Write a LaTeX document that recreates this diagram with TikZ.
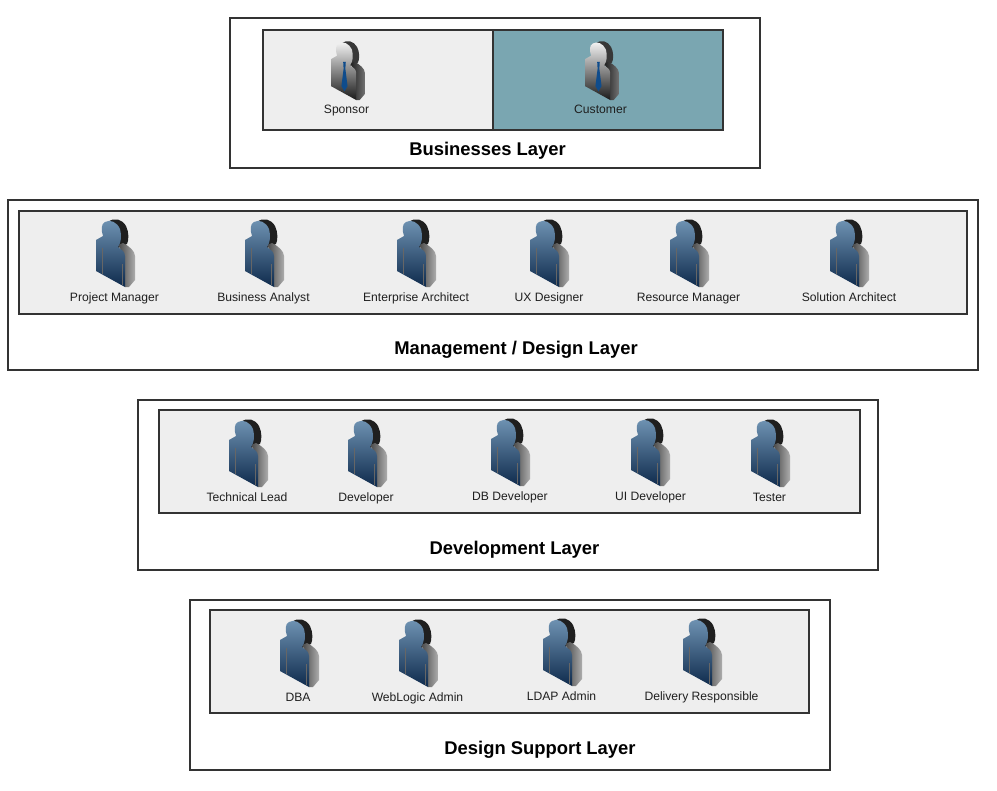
\documentclass[tikz,border=0pt]{standalone}
\usepackage{fontspec}
\setmainfont{Liberation Sans}
\definecolor{panelgray}{HTML}{EEEEEE}
\definecolor{panelteal}{HTML}{7AA6B1}
\definecolor{edge}{HTML}{333333}
\definecolor{frontTop}{HTML}{7094B4}
\definecolor{frontBot}{HTML}{0E2A4C}
\definecolor{tieblue}{HTML}{0F4C8C}
\tikzset{
  layerbox/.style={draw=edge,line width=1.2pt,fill=white,anchor=north west,inner sep=0pt,outer sep=0pt},
  panelbox/.style={layerbox,fill=panelgray},
  caption/.style={font=\fontsize{9.1}{11}\selectfont,text=black!88,inner sep=0pt,anchor=base},
  layertitle/.style={font=\fontsize{13.8}{16}\selectfont\bfseries,inner sep=0pt,anchor=base},
  foldline/.style={draw=black!60,line width=0.35pt}
}
\newcommand{\backhead}{(12,4) .. controls (18,-1) and (26,1) .. (30,8) .. controls (33,14) and (33,22) .. (31,26) -- (22,30) -- cycle}
\newcommand{\sidebody}{(22,27) -- (27,25) .. controls (33,28) and (39,33) .. (39,38) -- (39,62) -- (33,69) -- (29,69) -- (29,38) -- cycle}
\newcommand{\frontpath}{(0,22) -- (7,18) .. controls (5,12) and (5,6) .. (9,4)
     .. controls (14,1) and (21,4) .. (24,11) .. controls (26,18) and (25,25) .. (22,29)
     -- (27,33) .. controls (28,34) and (29,36) .. (29,38) -- (29,69) -- (0,53) -- cycle}
\newcommand{\staffperson}[2]{%
  \begin{scope}[shift={(#1,#2)}]
    \fill[black!88] \backhead;
    \shade[left color=black!72,right color=black!32] \sidebody;
    \shade[top color=frontTop,bottom color=frontBot] \frontpath;
    \draw[foldline] (6,30) -- (6,56);
    \draw[foldline] (26,46) -- (26,67);
  \end{scope}}
\newcommand{\suitperson}[2]{%
  \begin{scope}[shift={(#1,#2)},x=0.6525pt,y=-0.6525pt]
    \fill[black!78] \backhead;
    \shade[left color=black!88,right color=black!55] \sidebody;
    \shade[top color=black!3,middle color=black!50,bottom color=black!90] \frontpath;
    \fill[tieblue] (14,25) -- (17,25) -- (16.5,33) -- (19,53) -- (15.5,59) -- (12,53) -- (14.5,33) -- cycle;
  \end{scope}}
\begin{document}
\begin{tikzpicture}[x=0.75pt,y=-0.75pt]
\useasboundingbox (0,0) rectangle (997,790);
\fill[white] (0,0) rectangle (997,790);
% outer layers
\node[layerbox,minimum width=397.5pt,minimum height=112.5pt] (bizlayer) at (230,18) {};
\node[layerbox,minimum width=727.5pt,minimum height=127.5pt] (mgmtlayer) at (8,200) {};
\node[layerbox,minimum width=555pt,minimum height=127.5pt] (devlayer) at (138,400) {};
\node[layerbox,minimum width=480pt,minimum height=127.5pt] (suplayer) at (190,600) {};
% inner panels
\node[panelbox,minimum width=172.5pt,minimum height=75pt] (sponsorpanel) at (263,30) {};
\node[panelbox,fill=panelteal,minimum width=172.5pt,minimum height=75pt] (customerpanel) at (493,30) {};
\node[panelbox,minimum width=711pt,minimum height=77.25pt] (mgmtpanel) at (19,211) {};
\node[panelbox,minimum width=525.75pt,minimum height=77.25pt] (devpanel) at (159,410) {};
\node[panelbox,minimum width=449.25pt,minimum height=77.25pt] (suppanel) at (210,610) {};
% people
\suitperson{331}{40}
\suitperson{585}{40}
\staffperson{96}{218}
\staffperson{245}{218}
\staffperson{397}{218}
\staffperson{530}{218}
\staffperson{670}{218}
\staffperson{830}{218}
\staffperson{229}{418}
\staffperson{348}{418}
\staffperson{491}{417}
\staffperson{631}{417}
\staffperson{751}{418}
\staffperson{280}{618}
\staffperson{399}{618}
\staffperson{543}{617}
\staffperson{683}{617}
% captions
\node[caption] (c1) at (346.5,113) {Sponsor};
\node[caption] (c2) at (600.5,113) {Customer};
\node[caption] (c3) at (114.5,301) {Project Manager};
\node[caption] (c4) at (263.5,301) {Business Analyst};
\node[caption] (c5) at (416,301) {Enterprise Architect};
\node[caption] (c6) at (549,301) {UX Designer};
\node[caption] (c7) at (688.5,301) {Resource Manager};
\node[caption] (c8) at (849,301) {Solution Architect};
\node[caption] (c9) at (247,501) {Technical Lead};
\node[caption] (c10) at (366,501) {Developer};
\node[caption] (c11) at (510,500) {DB Developer};
\node[caption] (c12) at (650.5,500) {UI Developer};
\node[caption] (c13) at (769.5,501) {Tester};
\node[caption] (c14) at (298,701) {DBA};
\node[caption] (c15) at (417.5,701) {WebLogic Admin};
\node[caption] (c16) at (561.5,700) {LDAP Admin};
\node[caption] (c17) at (701.5,700) {Delivery Responsible};
% titles
\node[layertitle] (t1) at (487.5,155.5) {Businesses Layer};
\node[layertitle] (t2) at (516,354.5) {Management / Design Layer};
\node[layertitle] (t3) at (514.5,554.5) {Development Layer};
\node[layertitle] (t4) at (540,754.5) {Design Support Layer};
\end{tikzpicture}
\end{document}
